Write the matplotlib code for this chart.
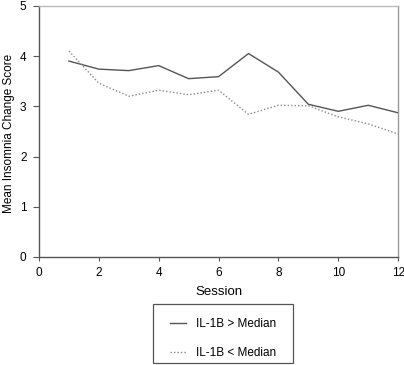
import matplotlib
matplotlib.use("Agg")
import matplotlib.pyplot as plt
from matplotlib.patches import Rectangle

sessions = [1, 2, 3, 4, 5, 6, 7, 8, 9, 10, 11, 12]
il1b_high = [3.90, 3.74, 3.71, 3.81, 3.55, 3.59, 4.05, 3.68, 3.04, 2.90, 3.02, 2.87]
il1b_low = [4.10, 3.46, 3.20, 3.32, 3.23, 3.32, 2.84, 3.02, 3.01, 2.79, 2.65, 2.45]
x_ticks = [0, 2, 4, 6, 8, 10, 12]
y_ticks = [0, 1, 2, 3, 4, 5]

plt.rcParams['font.family'] = ['Liberation Sans', 'DejaVu Sans']

W, H = 404, 365
fig = plt.figure(figsize=(W / 100, H / 100), dpi=100)
ax = fig.add_axes([0.0965, 0.296, 0.889, 0.688])

ax.plot(sessions, il1b_high, color='#555555', linewidth=1.0, linestyle='-', label='IL-1B > Median')
ax.plot(sessions, il1b_low, color='#8a8a8a', linewidth=1.0, linestyle=(0, (1, 1.5)), label='IL-1B < Median')

ax.set_xlim(0, 12)
ax.set_ylim(0, 5)
ax.set_xticks(x_ticks)
ax.set_yticks(y_ticks)
ax.tick_params(axis='x', direction='out', length=3, width=0.8, color='#555555', labelsize=8.5, pad=4)
ax.tick_params(axis='y', direction='out', length=4, width=0.8, color='#555555', labelsize=8.5, pad=5)
ax.set_xlabel('Session', fontsize=9.5, labelpad=5)
ax.set_ylabel('Mean Insomnia Change Score', fontsize=8.5)
ax.yaxis.set_label_coords(-0.066, 0.49)

ax.spines['left'].set_color('#555555')
ax.spines['bottom'].set_color('#555555')
ax.spines['top'].set_color('#bbbbbb')
ax.spines['right'].set_color('#999999')
for s in ax.spines.values():
    s.set_linewidth(1.0)

# legend entries without frame, box drawn separately
leg = fig.legend(loc='center', bbox_to_anchor=(223 / W, 1 - 338.5 / H),
                 fontsize=8.5, frameon=False,
                 handlelength=1.3, handletextpad=0.85, labelspacing=1.5,
                 borderpad=0, borderaxespad=0)
fig.patches.append(Rectangle((153 / W, 1 - 363 / H), 140 / W, 59 / H,
                             transform=fig.transFigure, fill=False,
                             edgecolor='#555555', linewidth=0.9))

fig.savefig('out.png', dpi=100)
